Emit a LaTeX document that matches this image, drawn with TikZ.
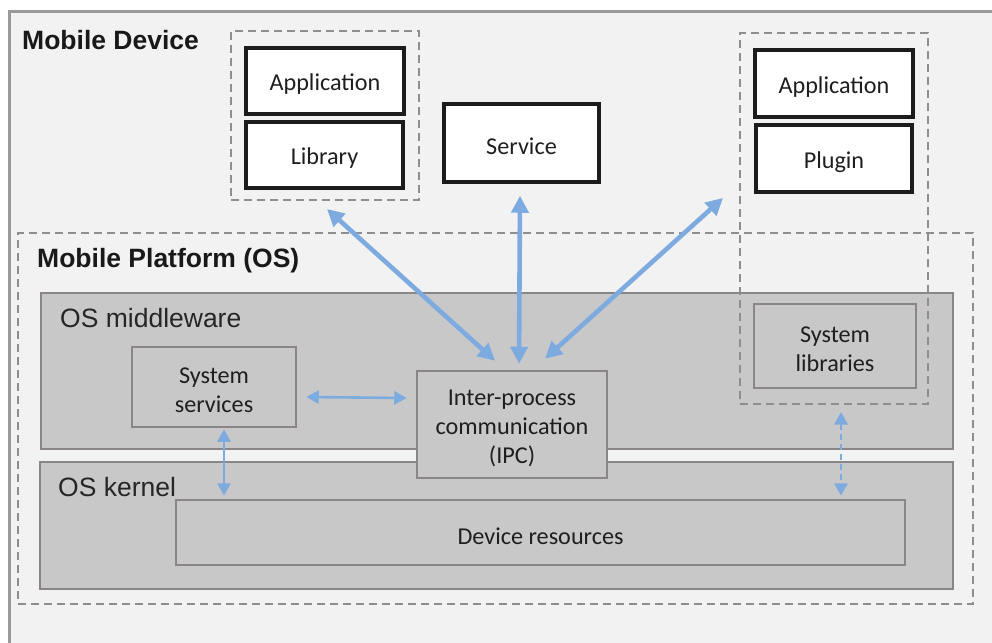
\documentclass[tikz,border=0pt]{standalone}
\usepackage{fontspec}
\setmainfont{Carlito}
\newfontfamily\arialf{Liberation Sans}
\usetikzlibrary{arrows.meta,calc}
\definecolor{bgpage}{HTML}{F2F2F2}
\definecolor{frameg}{HTML}{9A9A9A}
\definecolor{dashg}{HTML}{8E8E8E}
\definecolor{layerfill}{HTML}{C8C8C8}
\definecolor{layerdraw}{HTML}{8A8686}
\definecolor{boxblack}{HTML}{1C1C1C}
\definecolor{arrowblue}{RGB}{125,171,224}
\tikzset{
  calib/.style={font=\fontsize{24.2}{29}\selectfont, text=black!88, align=center, inner sep=0pt, yshift=-3.5pt},
  bigtitle/.style={font=\arialf\bfseries\fontsize{26.5}{30}\selectfont, anchor=base west, inner sep=0pt, text=black!90},
  laytitle/.style={font=\arialf\fontsize{26.5}{30}\selectfont, anchor=base west, inner sep=0pt, text=black!85},
  dashgroup/.style={draw=dashg, line width=2pt, dash pattern=on 8pt off 5pt, rectangle, inner sep=0pt},
  blackbox/.style={draw=boxblack, fill=white, line width=3.5pt, rectangle, inner sep=0pt},
  layer/.style={draw=layerdraw, fill=layerfill, line width=2.5pt, rectangle, inner sep=0pt},
  innerbox/.style={draw=layerdraw, fill=layerfill, line width=2.5pt, rectangle, inner sep=0pt},
  bigarrow/.style={draw=arrowblue, line width=4.6pt, {Triangle[length=17pt,width=17pt]}-{Triangle[length=17pt,width=17pt]}},
  thinarrow/.style={draw=arrowblue, line width=2.6pt, {Triangle[length=12.5pt,width=13pt]}-{Triangle[length=12.5pt,width=13pt]}},
}
\begin{document}
\begin{tikzpicture}[x=1pt,y=-1pt]
\useasboundingbox (0,0) rectangle (992,642);
\fill[white] (0,0) rectangle (992,642);
% outer device frame
\draw[draw=frameg, fill=bgpage, line width=3pt] (9.5,11.5) rectangle (1010,660);
\node[bigtitle] (devtitle) at (22,49) {Mobile Device};

% left group
\node[dashgroup, minimum width=188pt, minimum height=169pt] (lgrp) at (325,115.5) {};
\node[blackbox, minimum width=158pt, minimum height=66pt] (app1) at (325,81) {};
\node[calib] (app1t) at (app1) {Application};
\node[blackbox, minimum width=157pt, minimum height=66pt] (lib) at (324.5,155) {};
\node[calib] (libt) at (lib) {Library};

% service
\node[blackbox, minimum width=155pt, minimum height=78pt] (svc) at (521.5,143) {};
\node[calib] (svct) at (svc) {Service};

% platform
\node[dashgroup, minimum width=955pt, minimum height=371pt] (plat) at (495.5,418.5) {};
\node[bigtitle] (plattitle) at (37,267) {Mobile Platform (OS)};

\node[layer, minimum width=912pt, minimum height=156pt] (mid) at (497,371) {};
\node[laytitle] (midtitle) at (60,327) {OS middleware};
\node[layer, minimum width=913pt, minimum height=127pt] (kern) at (496.5,525.5) {};
\node[laytitle] (kerntitle) at (58,496.5) {OS kernel};

\node[innerbox, minimum width=164pt, minimum height=80pt] (ss) at (214,387) {};
\node[calib] (sst) at (ss) {System\\services};
\node[innerbox, minimum width=190pt, minimum height=107pt] (ipc) at (512,424.5) {};
\node[calib] (ipct) at (ipc) {Inter-process\\communication\\(IPC)};
\node[innerbox, minimum width=162pt, minimum height=84pt] (slib) at (835,346) {};
\node[calib] (slibt) at (slib) {System\\libraries};
\node[innerbox, minimum width=729pt, minimum height=65pt] (dev) at (540.5,532.5) {};
\node[calib] (devt) at (dev) {Device resources};

% right group
\node[dashgroup, minimum width=188pt, minimum height=371pt] (rgrp) at (834,218.5) {};
\node[blackbox, minimum width=158pt, minimum height=67pt] (app2) at (834,83.5) {};
\node[calib] (app2t) at (app2) {Application};
\node[blackbox, minimum width=156pt, minimum height=67pt] (plug) at (834,158.5) {};
\node[calib] (plugt) at (plug) {Plugin};

% arrows
\draw[bigarrow] ($(lgrp.south)+(2,8)$) -- ($(ipc.north)+(-17,-9)$);
\draw[bigarrow] ($(svc.south)+(-1.5,12)$) -- ($(ipc.north)+(7,-6)$);
\draw[bigarrow] ($(rgrp.west)+(-16,-20.5)$) -- ($(ipc.north)+(33,-11)$);
\draw[thinarrow] ($(ss.east)+(9,10)$) -- ($(ipc.west)+(-9,-26.5)$);
\coordinate (a5top) at ($(ss.south)+(10,1)$);
\draw[thinarrow, shorten >=3pt] (a5top) -- (a5top |- dev.north);
\coordinate (a6top) at ($(rgrp.south)+(7,7)$);
\draw[thinarrow, dash pattern=on 6pt off 4pt, shorten >=3pt] (a6top) -- (a6top |- dev.north);
\end{tikzpicture}
\end{document}
